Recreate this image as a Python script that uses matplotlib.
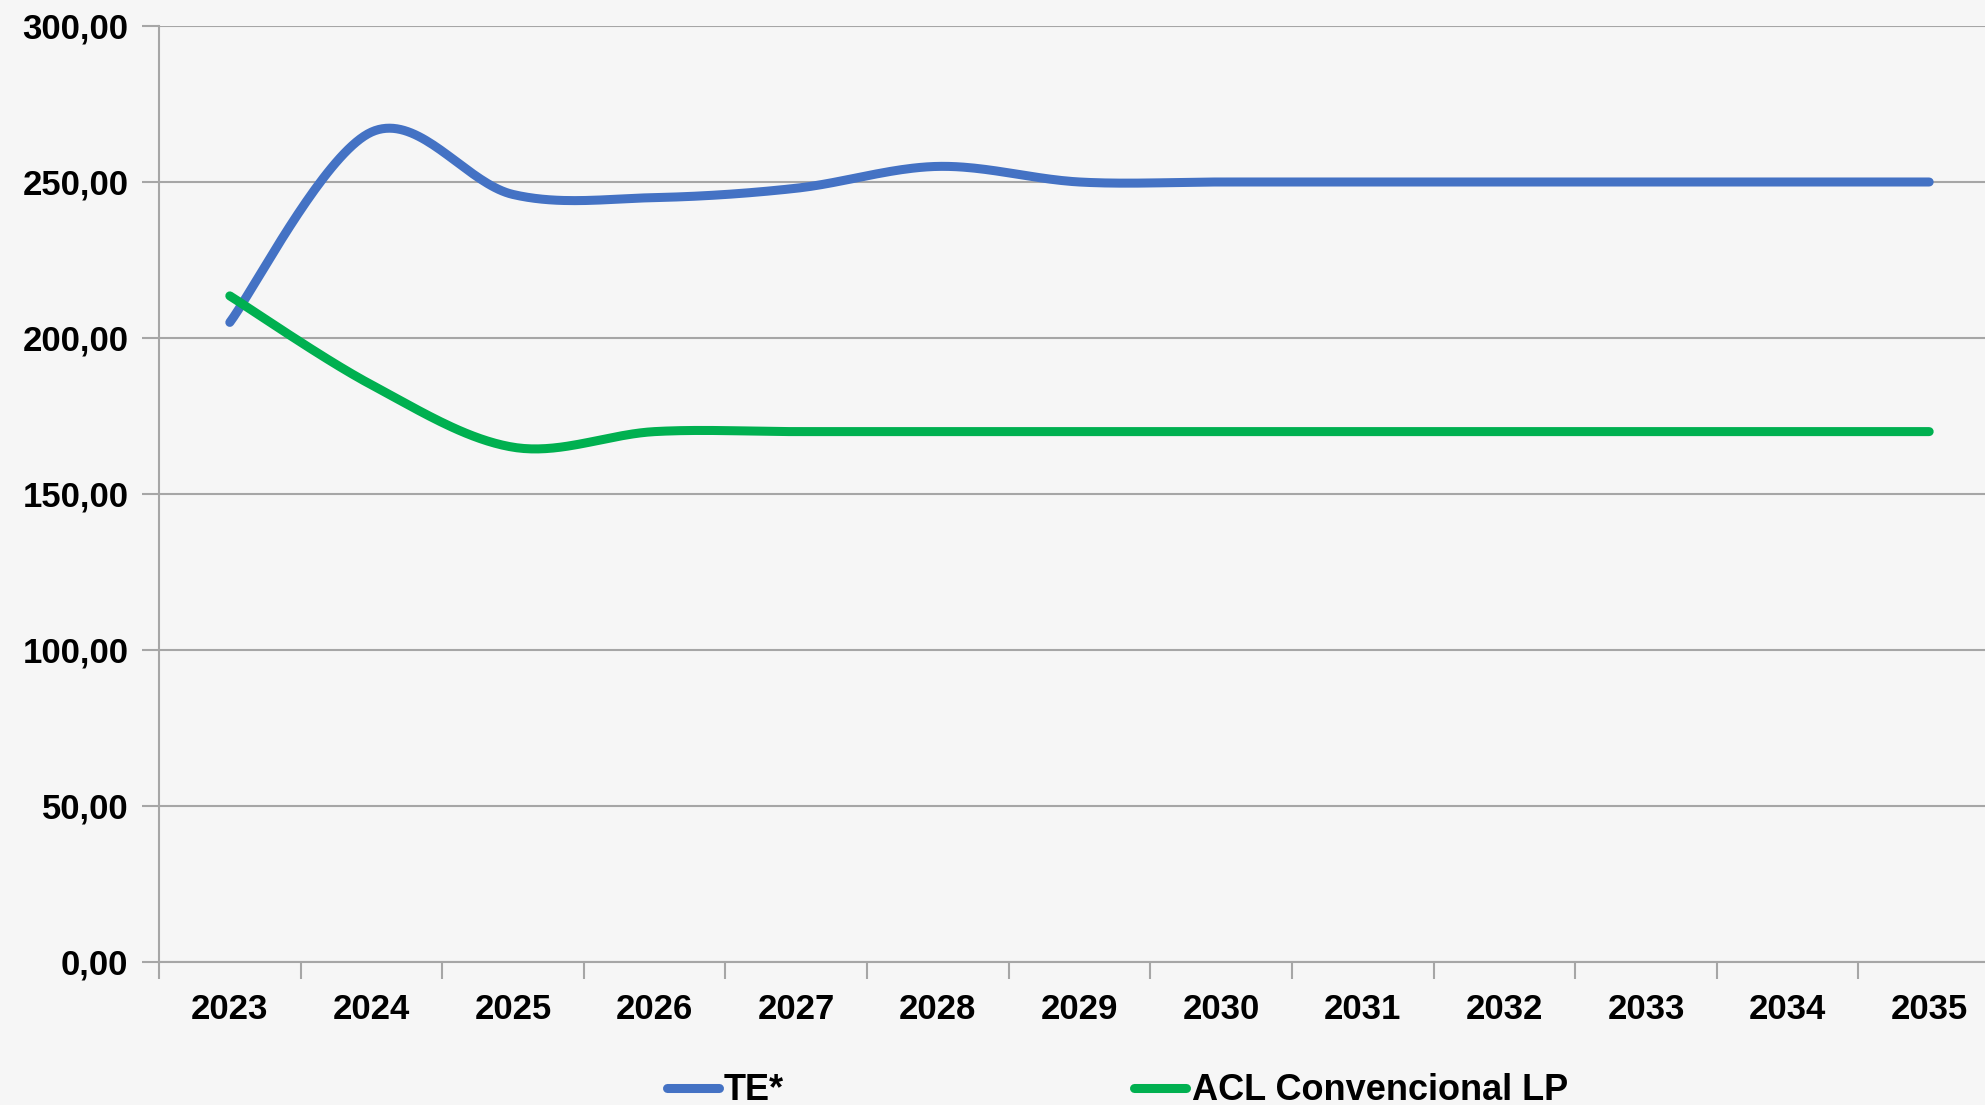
import numpy as np
import matplotlib
matplotlib.use('Agg')
from matplotlib import pyplot as plt
from matplotlib.ticker import FuncFormatter, MultipleLocator

years = ['2023', '2024', '2025', '2026', '2027', '2028', '2029',
         '2030', '2031', '2032', '2033', '2034', '2035']
te = [205, 266, 246, 245, 248, 255, 250, 250, 250, 250, 250, 250, 250]
acl = [213.5, 185, 165, 170, 170, 170, 170, 170, 170, 170, 170, 170, 170]
labels = ['TE*', 'ACL Convencional LP']


def smooth(xs, ys, n=40):
    # Excel-style smoothed line: cubic bezier with catmull-rom controls
    xs = np.asarray(xs, float)
    ys = np.asarray(ys, float)
    px = np.concatenate([[xs[0]], xs, [xs[-1]]])
    py = np.concatenate([[ys[0]], ys, [ys[-1]]])
    ox, oy = [], []
    t = np.linspace(0, 1, n)
    for i in range(1, len(px) - 2):
        p0 = np.array([px[i], py[i]])
        p3 = np.array([px[i + 1], py[i + 1]])
        p1 = p0 + (np.array([px[i + 1], py[i + 1]]) - np.array([px[i - 1], py[i - 1]])) / 6
        p2 = p3 - (np.array([px[i + 2], py[i + 2]]) - np.array([px[i], py[i]])) / 6
        b = ((1 - t) ** 3)[:, None] * p0 + (3 * (1 - t) ** 2 * t)[:, None] * p1 \
            + (3 * (1 - t) * t ** 2)[:, None] * p2 + (t ** 3)[:, None] * p3
        ox.extend(b[:, 0])
        oy.extend(b[:, 1])
    return ox, oy


bg = '#f6f6f6'
fig = plt.figure(figsize=(19.85, 11.05), dpi=100, facecolor=bg)
ax = fig.add_axes([159 / 1985, 143 / 1105, 1841 / 1985, 936 / 1105])
ax.set_facecolor(bg)

x = np.arange(len(years))
sx, sy = smooth(x, te)
ax.plot(sx, sy, color='#4472C4', lw=6.5, solid_capstyle='round', label=labels[0], zorder=3)
sx, sy = smooth(x, acl)
ax.plot(sx, sy, color='#00B050', lw=6.5, solid_capstyle='round', label=labels[1], zorder=3)

ax.set_xlim(-0.5, len(years) - 0.5)
ax.set_ylim(0, 300)
ax.yaxis.set_major_locator(MultipleLocator(50))
ax.yaxis.set_major_formatter(FuncFormatter(lambda v, p: f'{v:.2f}'.replace('.', ',')))
ax.grid(axis='y', color='#a6a6a6', lw=1.5)
ax.set_axisbelow(True)

ax.set_xticks(x)
ax.set_xticklabels(years)
ax.set_xticks(np.arange(-0.5, len(years)), minor=True)
ax.tick_params(axis='x', which='major', length=0, pad=22)
ax.tick_params(axis='x', which='minor', length=12, width=1.5, color='#a6a6a6')
ax.tick_params(axis='y', length=12, width=1.5, color='#a6a6a6', pad=10)

for s in ['top', 'right']:
    ax.spines[s].set_visible(False)
for s in ['left', 'bottom']:
    ax.spines[s].set_color('#a6a6a6')
    ax.spines[s].set_linewidth(1.5)

for lab in ax.get_xticklabels() + ax.get_yticklabels():
    lab.set_fontfamily(['Liberation Sans', 'DejaVu Sans'])
    lab.set_fontweight('bold')
    lab.set_fontsize(25)

leg = fig.legend(loc='center left', bbox_to_anchor=(667 / 1985, 14 / 1105), ncol=2,
                 frameon=False, borderpad=0, borderaxespad=0, handlelength=1.44,
                 handletextpad=0.14, columnspacing=9.7,
                 prop={'family': ['Liberation Sans Narrow', 'Liberation Sans', 'DejaVu Sans'],
                       'weight': 'bold', 'size': 26})

plt.savefig('out.png', dpi=100, facecolor=bg)
